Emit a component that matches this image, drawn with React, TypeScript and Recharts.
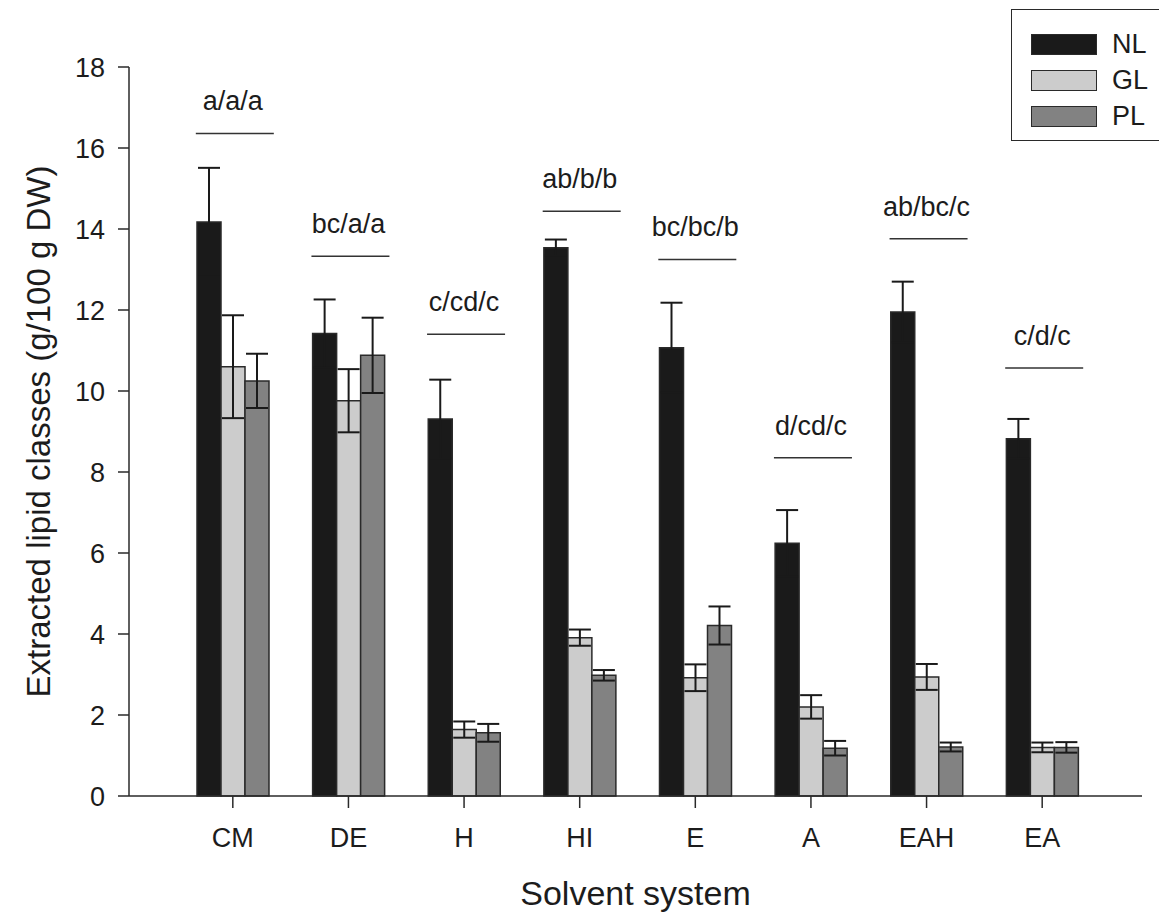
import React from "react";
import { ComposedChart, Bar, Line, XAxis, YAxis, ErrorBar, Label } from "recharts";

// solvent systems on the x axis
const categories = ["CM", "DE", "H", "HI", "E", "A", "EAH", "EA"];

// lipid classes, g/100 g DW, with their error
const nl = [14.17, 11.42, 9.31, 13.54, 11.07, 6.24, 11.95, 8.82];
const nlErr = [1.34, 0.84, 0.97, 0.2, 1.11, 0.82, 0.75, 0.49];
const gl = [10.6, 9.76, 1.64, 3.91, 2.92, 2.2, 2.94, 1.2];
const glErr = [1.27, 0.78, 0.2, 0.2, 0.33, 0.29, 0.32, 0.12];
const pl = [10.25, 10.88, 1.56, 2.98, 4.21, 1.18, 1.21, 1.2];
const plErr = [0.67, 0.93, 0.22, 0.13, 0.47, 0.18, 0.11, 0.13];

// significance letters and the height of the line under them
const letters = ["a/a/a", "bc/a/a", "c/cd/c", "ab/b/b", "bc/bc/b", "d/cd/c", "ab/bc/c", "c/d/c"];
const letterY = [16.36, 13.33, 11.4, 14.44, 13.25, 8.35, 13.76, 10.57];

const yTicks = [0, 2, 4, 6, 8, 10, 12, 14, 16, 18];

const FONT = '"Liberation Sans", Arial, Helvetica, sans-serif';
const INK = "#1c1c1c";
const EDGE = "#2a2a2a";

const series = [
  { key: "NL", err: "nlErr", fill: "#1a1a1a" },
  { key: "GL", err: "glErr", fill: "#cccccc" },
  { key: "PL", err: "plErr", fill: "#828282" },
];

const chartData = categories.map((name, i) => ({
  name,
  NL: nl[i],
  nlErr: nlErr[i],
  GL: gl[i],
  glErr: glErr[i],
  PL: pl[i],
  plErr: plErr[i],
  mark: letterY[i],
  letters: letters[i],
}));

function renderMark(props: any) {
  const { cx, cy, index, payload } = props;
  if (cx == null || cy == null) return <g key={`m-${index}`} />;
  return (
    <g key={`m-${index}`}>
      <line x1={cx - 37} x2={cx + 41} y1={cy} y2={cy} stroke="#333" strokeWidth={1.5} />
      <text x={cx} y={cy - 23} textAnchor="middle" fontSize={27} fontFamily={FONT} fill={INK}>
        {payload.letters}
      </text>
    </g>
  );
}

function XTitle(props: any) {
  const vb = props.viewBox || { x: 129, y: 796, width: 1013, height: 121 };
  return (
    <text x={vb.x + vb.width / 2} y={vb.y + 97} dy="0.35em" textAnchor="middle" fontSize={34} fontFamily={FONT} fill={INK}>
      Solvent system
    </text>
  );
}

function YTitle(props: any) {
  const vb = props.viewBox || { x: 0, y: 67, width: 129, height: 729 };
  const x = vb.x + 38;
  const y = vb.y + vb.height / 2;
  return (
    <text x={x} y={y} dy="0.35em" transform={`rotate(-90 ${x} ${y})`} textAnchor="middle" fontSize={33} fontFamily={FONT} fill={INK}>
      Extracted lipid classes (g/100 g DW)
    </text>
  );
}

// legend box sits over the top-right corner of the frame and runs off the figure edge
function LegendBox() {
  return (
    <div
      style={{
        position: "absolute",
        left: 1011,
        top: 9,
        width: 200,
        height: 132,
        boxSizing: "border-box",
        borderTop: `1.5px solid ${EDGE}`,
        borderLeft: `1.5px solid ${EDGE}`,
        borderBottom: `1.5px solid ${EDGE}`,
        background: "#fff",
        fontFamily: FONT,
      }}
    >
      {series.map((s, i) => (
        <div key={s.key} style={{ position: "absolute", left: 19, top: 23.5 + i * 36, height: 21, display: "flex" }}>
          <div style={{ width: 66, height: 21, boxSizing: "border-box", border: `1.5px solid ${EDGE}`, background: s.fill }} />
          <span style={{ marginLeft: 15, fontSize: 27, lineHeight: "21px", color: INK }}>{s.key}</span>
        </div>
      ))}
    </div>
  );
}

export default function App() {
  return (
    <div style={{ position: "absolute", left: 0, top: 0, width: 1159, height: 917, overflow: "hidden", background: "#fff" }}>
      <ComposedChart
        width={1159}
        height={917}
        data={chartData}
        margin={{ top: 67, right: 17, bottom: 0, left: 0 }}
        barCategoryGap={22}
        barGap={0}
      >
        <XAxis
          dataKey="name"
          height={121}
          interval={0}
          padding={{ left: 46, right: 42 }}
          tickSize={12}
          tickMargin={20}
          tick={{ fontSize: 27, fill: INK, fontFamily: FONT }}
          axisLine={{ stroke: EDGE, strokeWidth: 1.5 }}
          tickLine={{ stroke: EDGE, strokeWidth: 1.5 }}
        >
          <Label content={XTitle} />
        </XAxis>
        <XAxis
          xAxisId="top"
          orientation="top"
          dataKey="name"
          height={0}
          tick={false}
          tickLine={false}
          axisLine={{ stroke: EDGE, strokeWidth: 1.5 }}
        />
        <YAxis
          width={129}
          domain={[0, 18]}
          ticks={yTicks}
          interval={0}
          tickSize={11}
          tickMargin={13}
          tick={{ fontSize: 27, fill: INK, fontFamily: FONT }}
          axisLine={{ stroke: EDGE, strokeWidth: 1.5 }}
          tickLine={{ stroke: EDGE, strokeWidth: 1.5 }}
        >
          <Label content={YTitle} />
        </YAxis>
        <YAxis
          yAxisId="r"
          orientation="right"
          width={0}
          tick={false}
          tickLine={false}
          axisLine={{ stroke: EDGE, strokeWidth: 1.5 }}
        />
        {series.map((s) => (
          <Bar key={s.key} dataKey={s.key} fill={s.fill} stroke={EDGE} strokeWidth={1.5} isAnimationActive={false}>
            <ErrorBar dataKey={s.err} width={11} stroke="#1a1a1a" strokeWidth={2} direction="y" isAnimationActive={false} />
          </Bar>
        ))}
        <Line
          dataKey="mark"
          stroke="none"
          dot={renderMark}
          activeDot={false}
          legendType="none"
          isAnimationActive={false}
        />
      </ComposedChart>
      <LegendBox />
    </div>
  );
}
